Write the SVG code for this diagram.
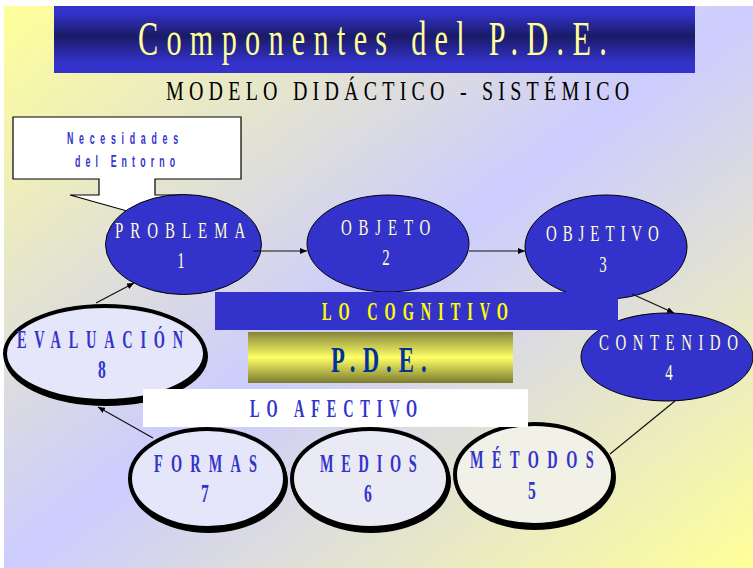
<svg xmlns="http://www.w3.org/2000/svg" width="753" height="568" viewBox="0 0 753 568">
<defs>
<linearGradient id="bg" x1="0" y1="0" x2="1" y2="1">
<stop offset="0" stop-color="#ffff99"/>
<stop offset="0.5" stop-color="#ccccff"/>
<stop offset="1" stop-color="#ffff99"/>
</linearGradient>
<linearGradient id="titlebar" x1="0" y1="0" x2="0" y2="1">
<stop offset="0" stop-color="#3333cc"/>
<stop offset="0.1" stop-color="#3333cc"/>
<stop offset="0.45" stop-color="#1a1a66"/>
<stop offset="0.85" stop-color="#3333cc"/>
<stop offset="1" stop-color="#3333cc"/>
</linearGradient>
<linearGradient id="gold" x1="0" y1="0" x2="0" y2="1">
<stop offset="0" stop-color="#858538"/>
<stop offset="0.5" stop-color="#ffff66"/>
<stop offset="1" stop-color="#7a7a30"/>
</linearGradient>
<marker id="arr" markerWidth="8" markerHeight="6" refX="7" refY="3" orient="auto" markerUnits="userSpaceOnUse">
<path d="M0,0 L7,3 L0,6 Z" fill="#000"/>
</marker>
</defs>
<style>
.serif{font-family:"Liberation Serif","Times New Roman",serif}
.sans{font-family:"Liberation Sans",Arial,sans-serif}
.blue{fill:#3333cc;stroke:#000;stroke-width:1}
.lbl{fill:#ffffcc;font-size:24px}
.blbl{fill:#3333cc;font-size:26px;font-weight:bold}
.shadow{fill:#000}
.ring{stroke:#000;stroke-width:4}
.conn line{stroke:#111;stroke-width:1.2;fill:none}
</style>
<rect x="0" y="0" width="753" height="568" fill="#ffffff"/>
<rect x="4" y="6" width="749" height="562" fill="url(#bg)"/>

<g id="title">
<rect x="54" y="6" width="641" height="67" fill="url(#titlebar)"/>
<text class="serif" transform="translate(138,55) scale(0.63,1)" font-size="48" fill="#ffff99" textLength="744" lengthAdjust="spacing">Componentes del P.D.E.</text>
</g>
<g id="subtitle">
<text class="serif" transform="translate(166,100) scale(0.74,1)" font-size="27" fill="#000" textLength="626" lengthAdjust="spacing">MODELO DIDÁCTICO - SISTÉMICO</text>
</g>

<g id="necesidades">
<path d="M13,117 H241 V179 H155 V195 H185 L127,211 L70,195 H99 V179 H13 Z" fill="#fff" stroke="#000" stroke-width="1.2"/>
<text class="sans" transform="translate(67,144) scale(0.55,1)" font-size="16" font-weight="bold" fill="#3333cc" textLength="202" lengthAdjust="spacing">Necesidades</text>
<text class="sans" transform="translate(75,167) scale(0.55,1)" font-size="16" font-weight="bold" fill="#3333cc" textLength="182" lengthAdjust="spacing">del Entorno</text>
</g>

<g id="problema">
<ellipse class="blue" cx="183.5" cy="244.5" rx="78" ry="50"/>
<text class="serif lbl" transform="translate(115,238) scale(0.62,1)" textLength="210" lengthAdjust="spacing">PROBLEMA</text>
<text class="serif lbl" transform="translate(181,268) scale(0.62,1)" text-anchor="middle">1</text>
</g>
<g id="objeto">
<ellipse class="blue" cx="388" cy="243.5" rx="81" ry="48.5"/>
<text class="serif lbl" transform="translate(341,235) scale(0.62,1)" textLength="144" lengthAdjust="spacing">OBJETO</text>
<text class="serif lbl" transform="translate(386,265) scale(0.62,1)" text-anchor="middle">2</text>
</g>
<g id="objetivo">
<ellipse class="blue" cx="606" cy="247" rx="81" ry="52"/>
<text class="serif lbl" transform="translate(546,241) scale(0.62,1)" textLength="182" lengthAdjust="spacing">OBJETIVO</text>
<text class="serif lbl" transform="translate(603,272) scale(0.62,1)" text-anchor="middle">3</text>
</g>
<g id="contenido">
<ellipse class="blue" cx="667" cy="357" rx="86" ry="44"/>
<text class="serif lbl" transform="translate(599,350) scale(0.62,1)" textLength="224" lengthAdjust="spacing">CONTENIDO</text>
<text class="serif lbl" transform="translate(669,380) scale(0.62,1)" text-anchor="middle">4</text>
</g>

<g id="evaluacion">
<ellipse class="shadow" cx="106" cy="356.5" rx="102" ry="49.5"/>
<ellipse class="ring" cx="105" cy="353.5" rx="100" ry="47.5" fill="#e6e6fa"/>
<text class="serif blbl" transform="translate(17,348) scale(0.55,1)" textLength="302" lengthAdjust="spacing">EVALUACIÓN</text>
<text class="serif blbl" transform="translate(102,378) scale(0.6,1)" text-anchor="middle">8</text>
</g>
<g id="formas">
<ellipse class="shadow" cx="208.5" cy="481.5" rx="79.5" ry="51.5"/>
<ellipse class="ring" cx="207.5" cy="478.5" rx="77.5" ry="49.5" fill="#e6e6fa"/>
<text class="serif blbl" transform="translate(154,472) scale(0.55,1)" textLength="187" lengthAdjust="spacing">FORMAS</text>
<text class="serif blbl" transform="translate(205,502) scale(0.6,1)" text-anchor="middle">7</text>
</g>
<g id="medios">
<ellipse class="shadow" cx="371" cy="481.5" rx="80" ry="51.5"/>
<ellipse class="ring" cx="370" cy="478.5" rx="78" ry="49.5" fill="#eaeaf4"/>
<text class="serif blbl" transform="translate(320,472) scale(0.55,1)" textLength="176" lengthAdjust="spacing">MEDIOS</text>
<text class="serif blbl" transform="translate(368,502) scale(0.6,1)" text-anchor="middle">6</text>
</g>
<g id="metodos">
<ellipse class="shadow" cx="535" cy="477.5" rx="81" ry="52.5"/>
<ellipse class="ring" cx="534" cy="474.5" rx="79" ry="50.5" fill="#f1f1e8"/>
<text class="serif blbl" transform="translate(470,468) scale(0.55,1)" textLength="225" lengthAdjust="spacing">MÉTODOS</text>
<text class="serif blbl" transform="translate(532,499) scale(0.6,1)" text-anchor="middle">5</text>
</g>

<g id="lo-cognitivo">
<rect x="215" y="292" width="403" height="38" fill="#3333cc"/>
<text class="serif" transform="translate(322,320) scale(0.55,1)" font-size="26" font-weight="bold" fill="#ffff00" textLength="338" lengthAdjust="spacing">LO COGNITIVO</text>
</g>
<g id="pde">
<rect x="248" y="332" width="265" height="51" fill="url(#gold)"/>
<text class="serif" transform="translate(331,372) scale(0.63,1)" font-size="36" font-weight="bold" fill="#003399" textLength="152" lengthAdjust="spacing">P.D.E.</text>
</g>
<g id="lo-afectivo">
<rect x="143" y="389" width="385" height="38" fill="#ffffff"/>
<text class="serif" transform="translate(250,417) scale(0.55,1)" font-size="26" font-weight="bold" fill="#3333cc" textLength="304" lengthAdjust="spacing">LO AFECTIVO</text>
</g>

<g id="connectors" class="conn">
<line x1="253" y1="251" x2="307" y2="251" marker-end="url(#arr)"/>
<line x1="469" y1="251" x2="525" y2="251" marker-end="url(#arr)"/>
<line x1="632" y1="294" x2="674" y2="313" marker-end="url(#arr)"/>
<line x1="675" y1="401" x2="610" y2="454"/>
<line x1="153" y1="438" x2="98" y2="407" marker-end="url(#arr)"/>
<line x1="96" y1="303" x2="134" y2="283" marker-end="url(#arr)"/>
</g>
</svg>
